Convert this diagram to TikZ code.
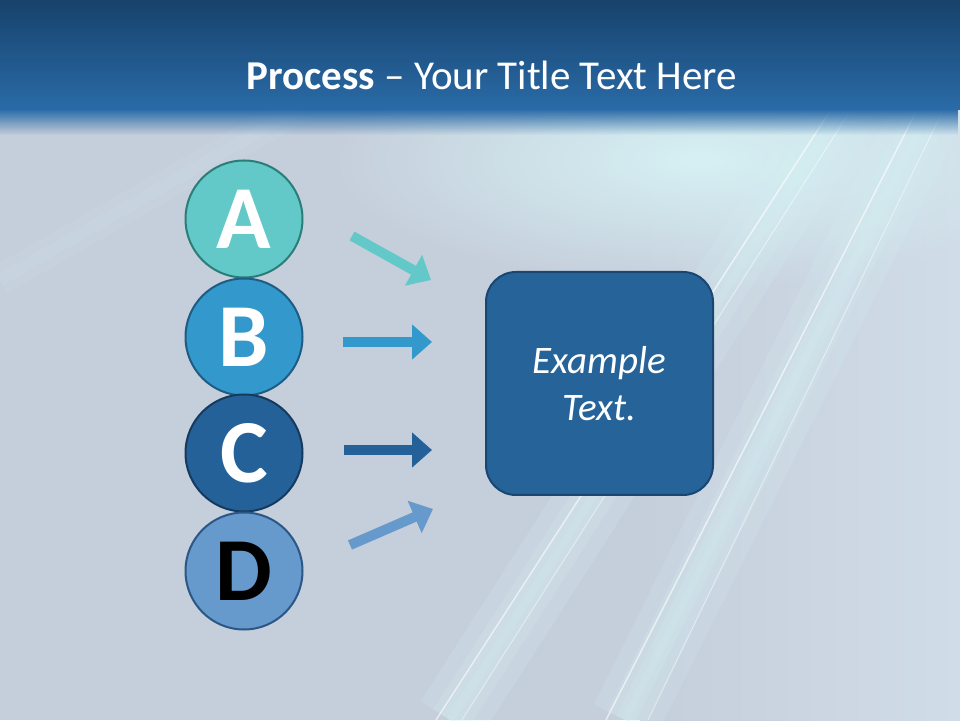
\documentclass[tikz,border=0pt]{standalone}
\usepackage{fontspec}
\setmainfont{Carlito}
\usetikzlibrary{arrows.meta,shapes.geometric,fadings}

\definecolor{bandtop}{HTML}{17426B}
\definecolor{bandbot}{HTML}{2A6BA8}
\definecolor{slidebg}{HTML}{C5CEDB}
\definecolor{slidelite}{HTML}{D0DCE7}
\definecolor{streak}{HTML}{D6F1F4}
\definecolor{fillA}{HTML}{62C9C8}
\definecolor{lineA}{HTML}{2B7D78}
\definecolor{fillB}{HTML}{3398CC}
\definecolor{lineB}{HTML}{1E5C84}
\definecolor{fillC}{HTML}{246199}
\definecolor{lineC}{HTML}{153A5E}
\definecolor{fillD}{HTML}{6699CC}
\definecolor{lineD}{HTML}{2B5685}
\definecolor{boxfill}{HTML}{256399}
\definecolor{boxline}{HTML}{1A4670}
\tikzfading[name=glowfade, inner color=transparent!0, outer color=transparent!100]

\begin{document}
\begin{tikzpicture}[x=1pt, y=1pt,
  letter/.style={circle, minimum size=117pt, inner sep=0pt, line width=2pt,
    font=\fontsize{90}{90}\selectfont\bfseries},
  blockarrow/.style={line width=10pt, -{Triangle[width=34pt,length=20pt]}},
  streakline/.style={line width=#1, streak, opacity=0.18}]
\useasboundingbox (0,0) rectangle (960,720);
% background
\fill[slidebg] (0,0) rectangle (960,720);
\shade[left color=slidebg, right color=slidelite] (640,0) rectangle (960,612);
\fill[streak, path fading=glowfade] (700,560) ellipse (380 and 130);
\foreach \w in {70,40,20,8}
  \draw[streakline=\w pt] (842,612) -- (450,0);
\draw[white, opacity=0.6, line width=1.5pt] (832,612) -- (436,0);
\draw[white, opacity=0.45, line width=1pt] (852,612) -- (462,0);
\foreach \w in {70,40,20,8}
  \draw[streakline=\w pt] (930,612) -- (625,0);
\draw[white, opacity=0.6, line width=1.5pt] (918,612) -- (606,0);
\draw[white, opacity=0.45, line width=1pt] (944,612) -- (648,0);
\foreach \w in {30,12}
  \draw[streakline=\w pt, opacity=0.1] (0,440) -- (300,612);
% title band
\shade[top color=bandtop, bottom color=bandbot] (0,720) rectangle (960,610);
\fill[bandbot, path fading=south] (0,611) rectangle (960,585);
\node[text=white, font=\fontsize{41}{41}\selectfont] (title) at (492,645)
  {\textbf{Process} -- Your Title Text Here};
% letters
\node[letter, fill=fillA, draw=lineA, text=white] (circA) at (244,501) {A};
\node[letter, fill=fillB, draw=lineB, text=white] (circB) at (244,383) {B};
\node[letter, fill=fillC, draw=lineC, text=white] (circC) at (244,267) {C};
\node[letter, fill=fillD, draw=lineD, text=black] (circD) at (244,149) {D};
% result box
\node[draw=boxline, fill=boxfill, line width=2pt, rounded corners=30pt,
  minimum width=227pt, minimum height=223pt, text=white, align=center,
  font=\fontsize{39}{47}\selectfont\itshape] (result) at (599.5,336.5)
  {Example\\Text.};
% arrows
\coordinate (fromA) at (352,484); \coordinate (toA) at (431,440);
\coordinate (fromB) at (343,378); \coordinate (toB) at (432,378);
\coordinate (fromC) at (344,270); \coordinate (toC) at (432,270);
\coordinate (fromD) at (350,175); \coordinate (toD) at (433,211);
\draw[blockarrow, fillA] (fromA) -- (toA);
\draw[blockarrow, fillB] (fromB) -- (toB);
\draw[blockarrow, fillC] (fromC) -- (toC);
\draw[blockarrow, fillD] (fromD) -- (toD);
\end{tikzpicture}
\end{document}
